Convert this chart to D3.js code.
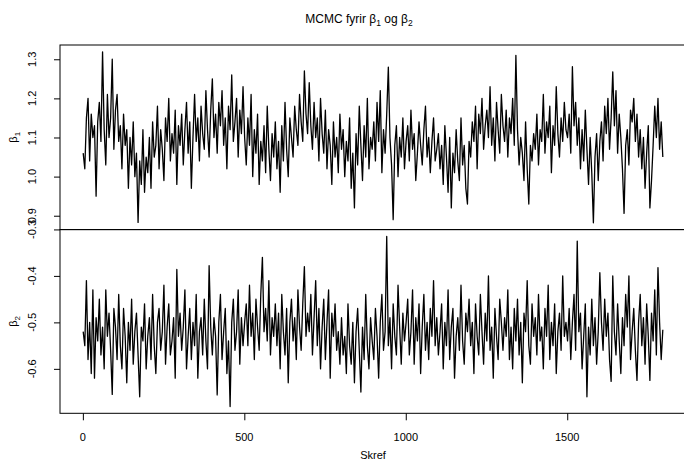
<!DOCTYPE html>
<html><head><meta charset="utf-8">
<script src="https://cdn.jsdelivr.net/npm/d3@7"></script>
<style>body{margin:0;background:#fff} text{font-family:"Liberation Sans",Arial,sans-serif;fill:#000}</style>
</head><body>
<svg id="c" width="684" height="464"></svg>
<script>
const stride = 5;
const beta1 = [
1.06,1.02,1.15,1.20,1.04,1.16,1.10,1.13,0.95,1.14,1.19,1.09,1.319,1.12,1.03,1.21,1.10,1.15,1.30,1.07,
1.17,1.21,1.09,1.13,1.02,1.16,1.08,1.12,0.97,1.10,1.03,1.14,1.00,1.06,0.883,1.04,0.98,1.12,0.96,1.05,
1.01,1.10,0.97,1.14,1.05,1.08,1.18,1.02,1.12,1.07,0.99,1.15,1.09,1.20,1.04,1.11,1.06,1.17,0.98,1.13,
1.08,1.16,1.03,1.12,1.19,1.06,1.14,0.97,1.10,1.21,1.09,1.15,1.04,1.18,1.11,1.07,1.22,1.12,1.05,1.17,
1.25,1.10,1.16,1.06,1.19,1.13,1.22,1.08,1.15,1.02,1.18,1.12,1.26,1.09,1.14,1.20,1.05,1.17,1.11,1.23,
1.10,1.03,1.15,1.08,1.21,1.00,1.12,1.06,1.16,0.98,1.09,1.04,1.13,1.01,1.18,1.07,0.99,1.11,1.05,1.14,
1.02,1.09,0.96,1.13,1.04,1.19,1.07,1.00,1.15,1.10,1.05,1.18,1.12,1.08,1.21,1.14,1.09,1.27,1.16,1.11,
1.24,1.13,1.07,1.19,1.10,1.15,1.04,1.20,1.11,1.06,1.17,1.02,1.12,1.08,0.98,1.14,1.05,1.10,1.01,1.16,
1.07,1.12,1.00,1.09,1.04,1.15,0.97,1.06,0.92,1.11,1.03,1.18,1.08,0.99,1.13,1.05,1.20,1.02,1.10,1.07,
1.14,1.04,1.19,1.09,1.22,1.01,1.12,1.06,1.16,1.28,1.10,1.03,0.89,1.08,1.13,1.00,1.10,1.05,1.15,1.02,
1.09,1.13,1.04,1.17,1.07,1.11,0.99,1.06,1.14,1.08,1.03,1.12,1.18,1.05,1.10,1.01,1.09,1.15,1.04,1.07,
1.11,1.02,1.08,0.98,1.13,1.05,0.96,1.10,0.92,1.06,1.01,1.12,1.04,0.99,1.15,1.03,1.08,0.97,0.93,1.09,
1.05,1.14,1.09,1.18,1.02,1.16,1.11,1.20,1.07,1.13,1.17,1.10,1.23,1.08,1.15,1.04,1.19,1.12,1.06,1.21,
1.13,1.09,1.17,1.05,1.15,1.11,1.20,1.08,1.31,1.12,1.03,1.10,1.06,0.99,1.14,1.02,0.93,1.08,1.04,1.11,
1.07,1.16,1.03,1.12,1.09,1.21,1.06,1.14,1.10,1.18,1.01,1.13,1.08,1.23,1.11,1.05,1.15,1.09,1.19,1.12,
1.10,1.16,1.06,1.281,1.13,1.19,1.08,1.15,1.02,1.12,1.04,1.17,1.07,0.98,1.10,1.01,0.882,1.05,1.11,0.99,
1.09,1.14,1.04,1.18,1.11,1.20,1.07,1.15,1.268,1.13,1.22,1.06,1.16,1.10,1.02,0.906,1.08,1.12,1.03,1.17,
1.14,1.20,1.09,1.16,1.05,1.12,1.02,1.10,0.97,1.06,1.13,0.92,0.99,1.08,1.18,1.10,1.20,1.07,1.14,1.05
];
const beta2 = [
-0.52,-0.55,-0.41,-0.58,-0.50,-0.61,-0.43,-0.62,-0.49,-0.54,-0.45,-0.57,-0.51,-0.60,-0.43,-0.53,-0.48,-0.56,-0.655,-0.47,
-0.51,-0.58,-0.44,-0.55,-0.60,-0.47,-0.53,-0.63,-0.50,-0.56,-0.45,-0.59,-0.52,-0.48,-0.57,-0.66,-0.51,-0.54,-0.46,-0.60,
-0.53,-0.49,-0.58,-0.44,-0.55,-0.61,-0.50,-0.47,-0.56,-0.52,-0.42,-0.59,-0.51,-0.46,-0.57,-0.54,-0.49,-0.62,-0.386,-0.53,
-0.48,-0.56,-0.51,-0.43,-0.60,-0.53,-0.47,-0.58,-0.50,-0.55,-0.44,-0.62,-0.52,-0.49,-0.57,-0.45,-0.54,-0.60,-0.378,-0.51,
-0.57,-0.49,-0.53,-0.656,-0.50,-0.44,-0.58,-0.52,-0.47,-0.61,-0.54,-0.681,-0.50,-0.45,-0.56,-0.52,-0.43,-0.59,-0.49,-0.55,
-0.50,-0.46,-0.55,-0.42,-0.53,-0.48,-0.58,-0.45,-0.51,-0.56,-0.44,-0.36,-0.52,-0.47,-0.54,-0.41,-0.57,-0.49,-0.53,-0.46,
-0.55,-0.48,-0.60,-0.44,-0.52,-0.57,-0.47,-0.63,-0.50,-0.45,-0.54,-0.49,-0.58,-0.43,-0.51,-0.56,-0.46,-0.38,-0.53,-0.48,
-0.52,-0.44,-0.57,-0.49,-0.41,-0.55,-0.47,-0.60,-0.51,-0.45,-0.58,-0.50,-0.43,-0.62,-0.48,-0.53,-0.46,-0.56,-0.52,-0.59,
-0.49,-0.57,-0.53,-0.61,-0.46,-0.55,-0.59,-0.50,-0.63,-0.52,-0.47,-0.56,-0.65,-0.51,-0.58,-0.44,-0.55,-0.60,-0.49,-0.54,
-0.58,-0.47,-0.53,-0.62,-0.50,-0.44,-0.56,-0.52,-0.315,-0.55,-0.49,-0.60,-0.46,-0.53,-0.57,-0.42,-0.51,-0.59,-0.48,-0.54,
-0.50,-0.45,-0.57,-0.52,-0.43,-0.59,-0.49,-0.54,-0.46,-0.61,-0.51,-0.44,-0.56,-0.50,-0.58,-0.47,-0.53,-0.41,-0.55,-0.49,
-0.57,-0.52,-0.46,-0.60,-0.50,-0.55,-0.43,-0.58,-0.51,-0.47,-0.62,-0.53,-0.49,-0.56,-0.42,-0.54,-0.59,-0.48,-0.52,-0.45,
-0.55,-0.50,-0.61,-0.46,-0.53,-0.57,-0.44,-0.52,-0.59,-0.48,-0.54,-0.40,-0.56,-0.51,-0.62,-0.47,-0.53,-0.58,-0.45,-0.50,
-0.56,-0.49,-0.53,-0.43,-0.58,-0.51,-0.60,-0.47,-0.54,-0.45,-0.57,-0.50,-0.63,-0.48,-0.52,-0.41,-0.55,-0.59,-0.46,-0.53,
-0.49,-0.57,-0.44,-0.54,-0.51,-0.60,-0.47,-0.53,-0.42,-0.58,-0.50,-0.55,-0.46,-0.61,-0.52,-0.48,-0.56,-0.40,-0.53,-0.50,
-0.54,-0.47,-0.58,-0.50,-0.44,-0.56,-0.325,-0.52,-0.48,-0.60,-0.53,-0.46,-0.66,-0.51,-0.57,-0.45,-0.55,-0.49,-0.59,-0.52,
-0.393,-0.50,-0.56,-0.45,-0.53,-0.48,-0.58,-0.627,-0.40,-0.52,-0.57,-0.46,-0.54,-0.61,-0.49,-0.55,-0.44,-0.51,-0.40,-0.58,
-0.52,-0.47,-0.56,-0.625,-0.50,-0.44,-0.55,-0.49,-0.59,-0.46,-0.53,-0.625,-0.48,-0.54,-0.43,-0.57,-0.382,-0.50,-0.58,-0.516
];
const xTicks = [0, 500, 1000, 1500];
const b1Ticks = [0.9, 1.0, 1.1, 1.2, 1.3];
const b2Ticks = [-0.6, -0.5, -0.4, -0.3];
const steps = beta1.map((_, i) => 1 + i * stride);

const svg = d3.select("#c");
const L = 60, R = 686;
const panels = [
  {data: beta1, ticks: b1Ticks, top: 45, bottom: 229.6, sub: "1"},
  {data: beta2, ticks: b2Ticks, top: 229.6, bottom: 413.3, sub: "2"}
];

function padExtent(ext) {
  const d = ext[1] - ext[0];
  return [ext[0] - 0.04 * d, ext[1] + 0.04 * d];
}
const x = d3.scaleLinear().domain(padExtent(d3.extent(steps))).range([L, R]);

panels.forEach(p => {
  const y = d3.scaleLinear().domain(padExtent(d3.extent(p.data))).range([p.bottom, p.top]);
  const g = svg.append("g");
  const line = d3.line().x((d, i) => x(steps[i])).y(d => y(d));
  g.append("path").datum(p.data).attr("d", line)
    .attr("fill", "none").attr("stroke", "#000").attr("stroke-width", 1.3)
    .attr("stroke-linejoin", "round");
  g.append("rect").attr("x", L).attr("y", p.top).attr("width", R - L).attr("height", p.bottom - p.top)
    .attr("fill", "none").attr("stroke", "#000").attr("stroke-width", 1);
  const ax = g.append("g").attr("transform", `translate(${L},0)`)
    .call(d3.axisLeft(y).tickValues(p.ticks).tickSize(6).tickFormat(() => ""));
  ax.select(".domain").remove();
  ax.selectAll("line").attr("stroke", "#000");
  p.ticks.forEach(t => {
    g.append("text")
      .attr("transform", `translate(35.5,${y(t)}) rotate(-90)`)
      .attr("text-anchor", "middle").attr("font-size", 11)
      .text(d3.format(".1f")(t).replace("\u2212", "-"));
  });
  const lab = g.append("text")
    .attr("transform", `translate(17,${(p.top + p.bottom) / 2}) rotate(-90)`)
    .attr("text-anchor", "middle").attr("font-size", 11);
  lab.append("tspan").text("\u03B2");
  lab.append("tspan").attr("font-size", 8).attr("dy", 2.5).text(p.sub);
});

const xa = svg.append("g").attr("transform", `translate(0,413.3)`)
  .call(d3.axisBottom(x).tickValues(xTicks).tickSize(7).tickFormat(""));
xa.select(".domain").remove();
xa.selectAll("line").attr("stroke", "#000");
xTicks.forEach(t => {
  svg.append("text").attr("x", x(t)).attr("y", 441).attr("text-anchor", "middle")
    .attr("font-size", 11).text(t);
});
svg.append("text").attr("x", 373).attr("y", 459).attr("text-anchor", "middle")
  .attr("font-size", 11).text("Skref");

const title = svg.append("text").attr("x", 359).attr("y", 23).attr("text-anchor", "middle").attr("font-size", 12);
title.append("tspan").text("MCMC fyrir \u03B2");
title.append("tspan").attr("font-size", 8.5).attr("dy", 3).text("1");
title.append("tspan").attr("dy", -3).text(" og \u03B2");
title.append("tspan").attr("font-size", 8.5).attr("dy", 3).text("2");
</script>
</body></html>
